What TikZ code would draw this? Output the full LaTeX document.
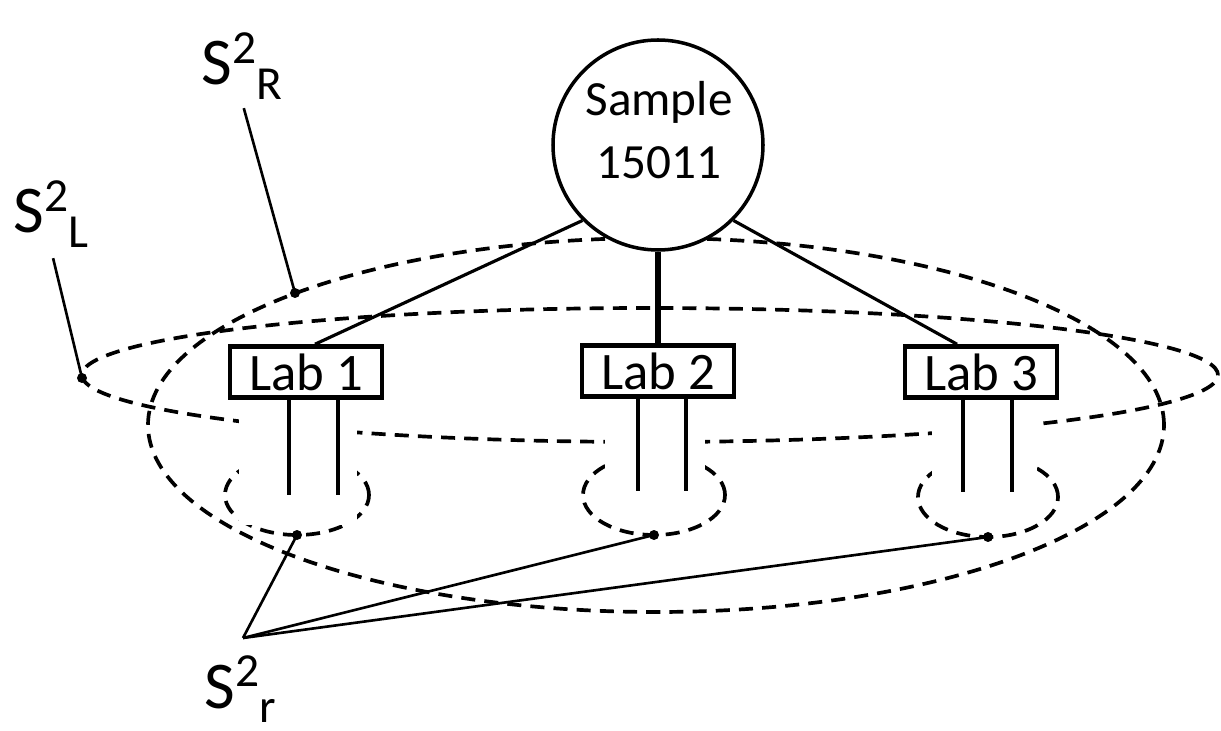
\documentclass[tikz,border=0pt]{standalone}
\usepackage{fontspec}
\setmainfont{Carlito}
\usepackage{tikz}
\usetikzlibrary{calc}
\newcommand{\varsym}[1]{{\fontsize{19}{22}\selectfont S\raisebox{6pt}{\fontsize{13.5}{16}\selectfont 2}\raisebox{-4pt}{\fontsize{13.5}{16}\selectfont #1}}}

\begin{document}
\begin{tikzpicture}[thick]
\tikzset{lab/.style={draw, fill=white, line width=1.3pt, minimum width=1.52cm, minimum height=0.51cm, inner sep=0pt, font=\fontsize{15}{17}\selectfont}}
\tikzset{var/.style={inner sep=0pt, anchor=base west}}
\tikzset{level/.style={dash pattern=on 4pt off 2.6pt, line width=1.05pt}}
\tikzset{leg/.style={line width=1.4pt}}
\tikzset{pointer/.style={line width=0.75pt}}

\useasboundingbox (0,0) rectangle (12.21,-7.31);

\coordinate (dR) at (2.95,-2.93);
\coordinate (dL) at (0.82,-3.78);
\coordinate (d1) at (2.97,-5.35);
\coordinate (d2) at (6.54,-5.35);
\coordinate (d3) at (9.88,-5.37);
\coordinate (apex) at (2.43,-6.38);

\draw[level] (6.56,-4.25) ellipse (5.08 and 1.87);
\draw[level] (6.50,-3.75) ellipse (5.68 and 0.67);
\draw[level] (2.97,-4.95) ellipse (0.72 and 0.40);
\draw[level] (6.54,-4.95) ellipse (0.71 and 0.40);
\draw[level] (9.88,-4.97) ellipse (0.70 and 0.40);

\fill[white] (2.39,-3.98) rectangle (3.57,-5.25);
\fill[white] (6.05,-3.93) rectangle (7.05,-5.02);
\fill[white] (9.32,-3.95) rectangle (10.37,-5.02);

\node[circle, draw, fill=white, line width=1pt, minimum size=2.1cm] (sample) at (6.58,-1.45) {};
\node[align=center, font=\fontsize{14}{18}\selectfont] (sampletext) at (6.59,-1.30) {Sample\\15011};

\node[lab] (lab1) at (3.06,-3.72) {Lab 1};
\node[lab] (lab2) at (6.58,-3.71) {Lab 2};
\node[lab] (lab3) at (9.81,-3.72) {Lab 3};

\node[var] (sR) at (2.00,-0.85) {\varsym{R}};
\node[var] (sL) at (0.12,-2.33) {\varsym{L}};
\node[var] (sr) at (2.03,-7.08) {\varsym{r}};

\draw[line width=0.9pt] (sample.225) -- ([xshift=0.09cm]lab1.north);
\draw[line width=1.7pt] (sample.south) -- (lab2.north);
\draw[line width=0.9pt] (sample.315) -- ([xshift=-0.24cm]lab3.north);

\draw[leg] ($(lab1.south)+(-0.17,0)$) -- ++(0,-0.95);
\draw[leg] ($(lab1.south)+(0.32,0)$) -- ++(0,-0.95);
\draw[leg] ($(lab2.south)+(-0.20,0)$) -- ++(0,-0.92);
\draw[leg] ($(lab2.south)+(0.28,0)$) -- ++(0,-0.92);
\draw[leg] ($(lab3.south)+(-0.18,0)$) -- ++(0,-0.92);
\draw[leg] ($(lab3.south)+(0.31,0)$) -- ++(0,-0.92);

\draw[pointer, shorten <=0.08cm] (sR.south) -- (dR);
\draw[pointer, shorten <=0.1cm] (sL.south) -- (dL);
\draw[pointer] (apex) -- (d1);
\draw[pointer] (apex) -- (d2);
\draw[pointer] (apex) -- (d3);

\fill (dR) circle (0.05);
\fill (dL) circle (0.05);
\fill (d1) circle (0.05);
\fill (d2) circle (0.05);
\fill (d3) circle (0.05);
\end{tikzpicture}
\end{document}
